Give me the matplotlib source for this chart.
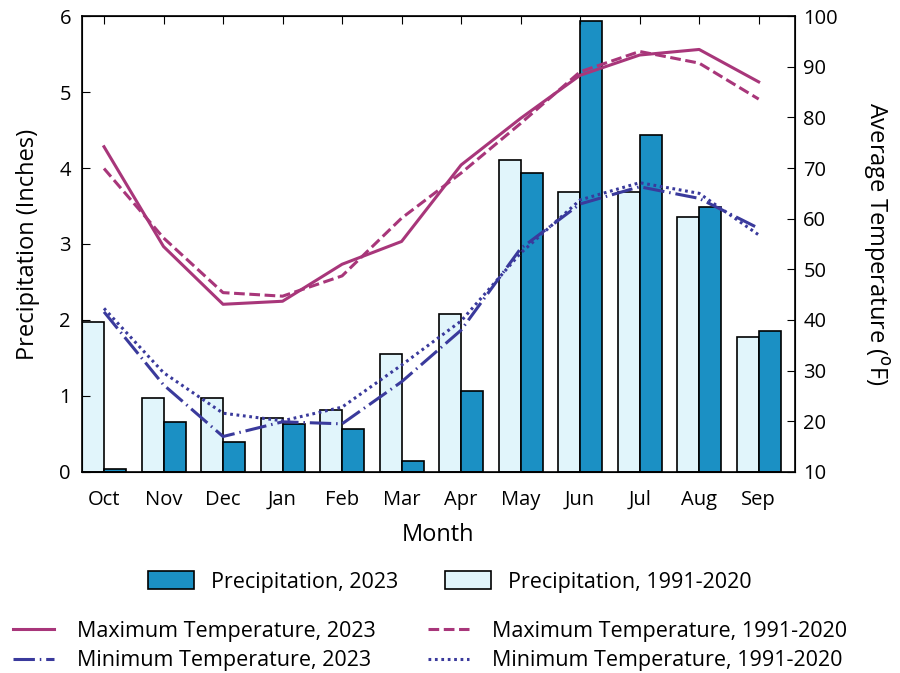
import matplotlib
matplotlib.use("Agg")
import matplotlib.pyplot as plt
import numpy as np
from matplotlib.patches import Patch
from matplotlib.lines import Line2D

plt.rcParams["font.family"] = ["Open Sans", "DejaVu Sans"]
plt.rcParams["font.size"] = 14.5

# data
months = ["Oct", "Nov", "Dec", "Jan", "Feb", "Mar", "Apr", "May", "Jun", "Jul", "Aug", "Sep"]
precip_2023 = [0.04, 0.66, 0.39, 0.63, 0.57, 0.14, 1.06, 3.94, 5.93, 4.43, 3.49, 1.85]
precip_normal = [1.97, 0.97, 0.98, 0.71, 0.81, 1.55, 2.08, 4.11, 3.68, 3.68, 3.35, 1.77]
tmax_2023 = [74.2, 54.5, 43.1, 43.7, 51.0, 55.5, 70.6, 79.8, 88.3, 92.3, 93.4, 87.0]
tmax_normal = [69.9, 56.2, 45.4, 44.7, 48.7, 60.1, 69.0, 78.8, 89.0, 93.0, 90.7, 83.6]
tmin_2023 = [41.6, 27.2, 17.0, 19.9, 19.5, 27.8, 38.0, 54.1, 62.9, 66.3, 64.0, 58.1]
tmin_normal = [42.3, 29.6, 21.6, 20.1, 22.8, 31.1, 39.8, 53.2, 63.7, 67.1, 65.0, 56.8]

c_dark = "#1b90c4"
c_light = "#e1f5fb"
c_max = "#a8367a"
c_min = "#3a3a9c"

x = np.arange(len(months))
w = 0.37

fig = plt.figure(figsize=(9, 6.73), dpi=100)
ax = fig.add_axes([0.0911, 0.2987, 0.7922, 0.6775])

ax.bar(x - w, precip_normal, width=w, align="edge", color=c_light, edgecolor="black", linewidth=1.2)
ax.bar(x, precip_2023, width=w, align="edge", color=c_dark, edgecolor="black", linewidth=1.2)
ax.set_xlim(-0.37, 11.61)
ax.set_ylim(0, 6)
ax.set_xticks(x)
ax.set_xticklabels(months)
ax.set_yticks(range(0, 7))
ax.tick_params(direction="in", length=6, top=True, bottom=False, pad=8)
ax.tick_params(axis="x", pad=13)
ax.set_ylabel("Precipitation (Inches)", fontsize=17, labelpad=14)
ax.set_xlabel("Month", fontsize=17, labelpad=9)
for s in ax.spines.values():
    s.set_linewidth(1.2)

ax2 = ax.twinx()
lw = 2.2
ax2.plot(x, tmax_2023, color=c_max, lw=lw, linestyle="-")
ax2.plot(x, tmax_normal, color=c_max, lw=lw, linestyle=(0, (3.5, 1.5)))
ax2.plot(x, tmin_2023, color=c_min, lw=lw, linestyle=(0, (7, 1.6, 0.5, 1.6)))
ax2.plot(x, tmin_normal, color=c_min, lw=lw, linestyle=(0, (0.9, 1.2)))
ax2.set_ylim(10, 100)
ax2.set_yticks(range(10, 101, 10))
ax2.tick_params(direction="in", length=6, pad=6)
ax2.set_ylabel("Average Temperature ($^{\\rm o}$F)", fontsize=17, rotation=270, labelpad=38)

# legends
h1 = [Patch(facecolor=c_dark, edgecolor="black", linewidth=1.2),
      Patch(facecolor=c_light, edgecolor="black", linewidth=1.2)]
fig.legend(h1, ["Precipitation, 2023", "Precipitation, 1991-2020"], ncol=2,
           loc="center", bbox_to_anchor=(0.5, 0.135), frameon=False, fontsize=15.5,
           handlelength=2.1, handleheight=0.9, handletextpad=0.8, columnspacing=2.2)

h2 = [Line2D([], [], color=c_max, lw=lw),
      Line2D([], [], color=c_min, lw=lw, linestyle=(0, (7, 1.6, 0.5, 1.6))),
      Line2D([], [], color=c_max, lw=lw, linestyle=(0, (3.5, 1.5))),
      Line2D([], [], color=c_min, lw=lw, linestyle=(0, (0.9, 1.2)))]
fig.legend(h2, ["Maximum Temperature, 2023", "Minimum Temperature, 2023",
                "Maximum Temperature, 1991-2020", "Minimum Temperature, 1991-2020"],
           ncol=2, loc="center", bbox_to_anchor=(0.478, 0.04), frameon=False, fontsize=15.5,
           handlelength=1.9, handletextpad=1.1, columnspacing=2.4, labelspacing=0.4)

fig.savefig("out.png", dpi=100)
